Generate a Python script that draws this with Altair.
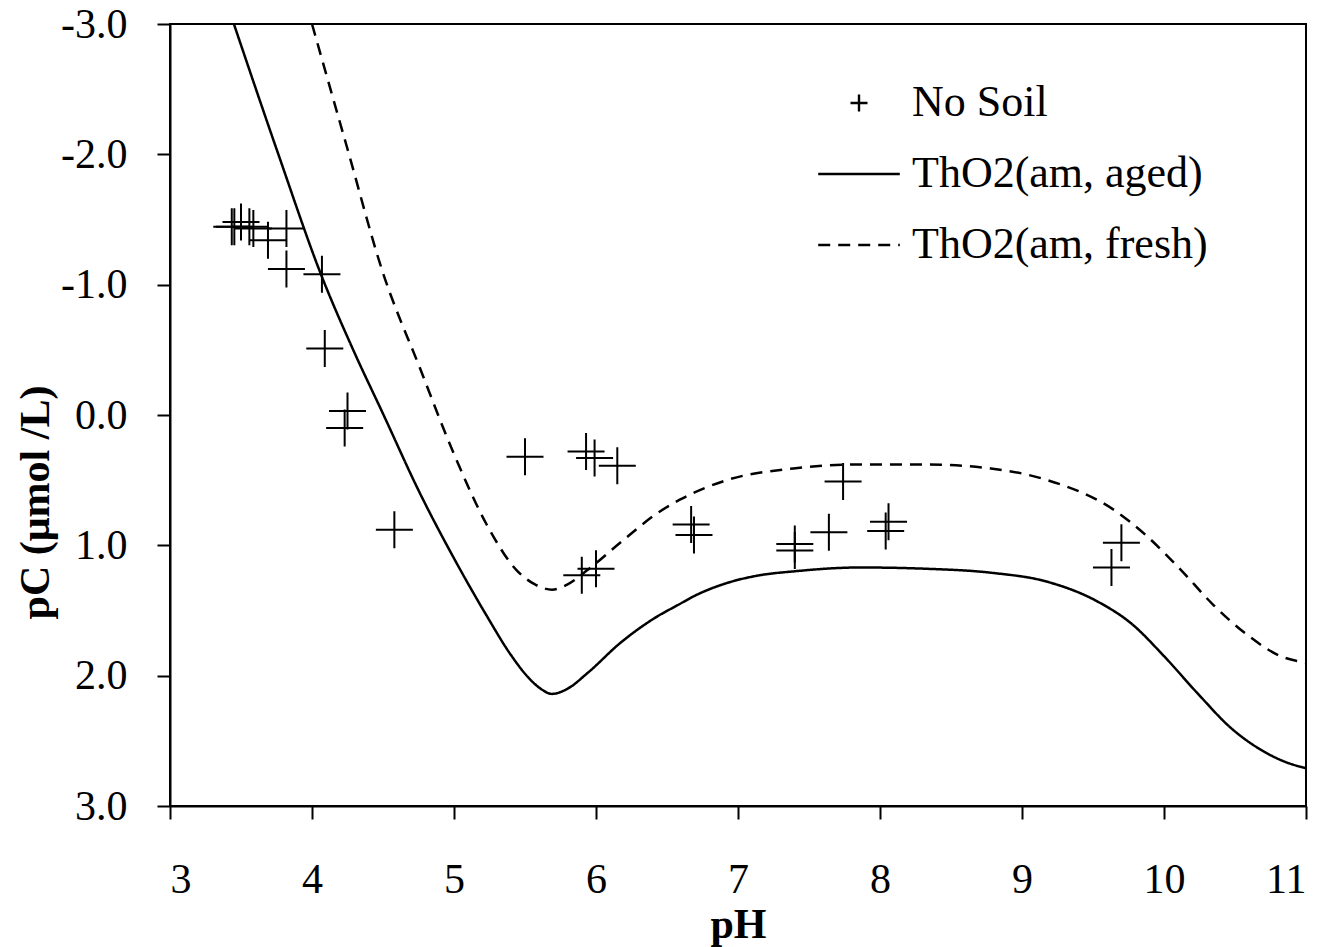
import altair as alt
import pandas as pd

# Measured dissolved thorium, no soil added
soil_ph = [3.435, 3.453, 3.50, 3.559, 3.587, 3.69, 3.82, 3.82, 4.07, 4.09, 4.25, 4.23, 4.58,
           5.50, 5.93, 5.99, 6.15, 5.90, 6.00,
           6.67, 6.69, 7.40, 7.40, 7.64, 7.74, 8.06, 8.04,
           9.70, 9.63]
soil_pc = [-1.445, -1.445, -1.48, -1.445, -1.43, -1.34, -1.43, -1.12, -1.08, -0.51, -0.03, 0.10, 0.88,
           0.32, 0.28, 0.33, 0.39, 1.23, 1.18,
           0.84, 0.92, 0.99, 1.04, 0.90, 0.51, 0.82, 0.89,
           0.98, 1.17]

# Solubility curve, aged amorphous ThO2
aged_ph = [3.45, 3.76, 4.07, 4.29, 4.50, 4.76, 5.00, 5.23, 5.40, 5.52, 5.61, 5.69, 5.80,
           5.94, 6.17, 6.41, 6.59, 6.69, 6.92, 7.15, 7.39, 7.86, 8.33, 8.78, 9.18,
           9.53, 9.77, 10.0, 10.24, 10.47, 10.70, 10.85, 11.0]
aged_pc = [-3.0, -2.01, -1.06, -0.50, -0.01, 0.60, 1.10, 1.54, 1.84, 2.01, 2.10, 2.14, 2.10,
           1.98, 1.75, 1.56, 1.45, 1.39, 1.29, 1.23, 1.20, 1.17, 1.18, 1.21, 1.28,
           1.43, 1.60, 1.85, 2.14, 2.40, 2.58, 2.66, 2.71]

# Solubility curve, fresh amorphous ThO2
fresh_ph = [4.0, 4.245, 4.50, 4.76, 5.0, 5.23, 5.44, 5.57, 5.69, 5.80, 5.94, 6.17, 6.45,
            6.59, 6.92, 7.39, 7.86, 8.33, 8.78, 9.18, 9.65, 9.88, 10.12, 10.35, 10.59,
            10.82, 11.0]
fresh_pc = [-3.0, -2.06, -1.09, -0.36, 0.30, 0.84, 1.19, 1.30, 1.34, 1.30, 1.19, 0.98, 0.74,
            0.65, 0.50, 0.41, 0.38, 0.38, 0.41, 0.50, 0.73, 0.93, 1.19, 1.46, 1.69,
            1.85, 1.90]

series = ["No Soil", "ThO2(am, aged)", "ThO2(am, fresh)"]
x_ticks = [3, 4, 5, 6, 7, 8, 9, 10, 11]
y_ticks = [-3, -2, -1, 0, 1, 2, 3]

points = pd.DataFrame({"pH": soil_ph, "pC": soil_pc, "series": series[0]})
curves = pd.concat([
    pd.DataFrame({"pH": aged_ph, "pC": aged_pc, "series": series[1]}),
    pd.DataFrame({"pH": fresh_ph, "pC": fresh_pc, "series": series[2]}),
], ignore_index=True)

FONT = "Liberation Serif"
PLUS = "M-1,0L1,0M0,-1L0,1"
BAR = "M-4.8,0L4.8,0"

legend = alt.Legend(
    title=None, orient="none", legendX=667, legendY=57, padding=0,
    symbolSize=289, symbolStrokeWidth=2.4, symbolStrokeColor="black",
    symbolOpacity=1, labelFont=FONT, labelFontSize=44, labelColor="black",
    labelOffset=31, rowPadding=27, labelLimit=600,
)

x_enc = alt.X(
    "pH:Q",
    scale=alt.Scale(domain=[3, 11], nice=False, zero=False),
    axis=alt.Axis(values=x_ticks, format="d", title="pH", labelBaseline="middle",
                  labelPadding=60, titleY=118, titleBaseline="middle"),
)
y_enc = alt.Y(
    "pC:Q",
    scale=alt.Scale(domain=[-3, 3], reverse=True, nice=False, zero=False),
    axis=alt.Axis(values=y_ticks,
                  labelExpr="replace(format(datum.value, '.1f'), '\u2212', '-')",
                  title="pC (μmol /L)", labelPadding=30,
                  titleX=-135, titleY=478, titleAlign="center", titleBaseline="middle"),
)

lines = alt.Chart(curves).mark_line(
    color="black", strokeWidth=2.5, interpolate="monotone"
).encode(
    x=x_enc, y=y_enc,
    strokeDash=alt.StrokeDash(
        "series:N",
        scale=alt.Scale(domain=series, range=[[1, 0], [1, 0], [12, 8]]),
        legend=legend,
    ),
)

marks = alt.Chart(points).mark_point(
    color="black", filled=False, size=1369, strokeWidth=2, opacity=1
).encode(
    x=x_enc, y=y_enc,
    shape=alt.Shape(
        "series:N",
        scale=alt.Scale(domain=series, range=[PLUS, BAR, BAR]),
        legend=legend,
    ),
)

chart = alt.layer(lines, marks).properties(
    width=1136, height=782,
    autosize=alt.AutoSizeParams(type="none"),
    padding={"left": 170, "top": 24, "right": 25, "bottom": 141},
    background="white",
).configure(font=FONT).configure_view(
    stroke="black", strokeWidth=2
).configure_axis(
    grid=False, domainColor="black", domainWidth=2, tickColor="black", tickWidth=2,
    tickSize=13, labelFont=FONT, labelFontSize=42, labelColor="black",
    titleFont=FONT, titleFontSize=42, titleColor="black", titleFontWeight="bold",
)

chart.save("out.html", embed_options={"renderer": "svg", "actions": False})
